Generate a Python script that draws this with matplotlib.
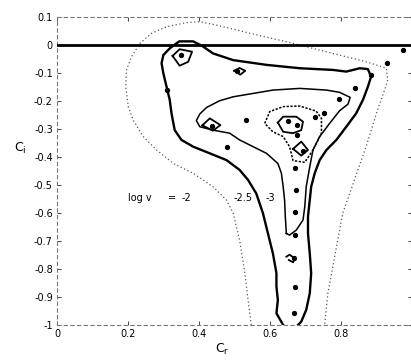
import matplotlib
matplotlib.use("Agg")
import matplotlib.pyplot as plt

# ---- data (data coordinates) ----
# outer dotted contour (log v = -2)
c2_x = [0.548, 0.539, 0.530, 0.515, 0.497, 0.478, 0.440, 0.384, 0.328, 0.281, 0.243, 0.215, 0.201,
        0.194, 0.196, 0.210, 0.234, 0.267, 0.309, 0.365, 0.403, 0.450, 0.544, 0.666, 0.778, 0.872,
        0.929, 0.933, 0.924, 0.901, 0.872, 0.839, 0.806, 0.792, 0.778, 0.764, 0.755]
c2_y = [-1.0, -0.911, -0.815, -0.696, -0.601, -0.554, -0.506, -0.458, -0.423, -0.375, -0.327, -0.268, -0.220,
        -0.149, -0.089, -0.042, 0.006, 0.042, 0.065, 0.080, 0.083, 0.071, 0.042, 0.006, -0.030, -0.060,
        -0.083, -0.125, -0.161, -0.244, -0.363, -0.482, -0.601, -0.696, -0.792, -0.887, -1.0]

# thick solid contour (log v = -2.5), zoom-pixel derived
c25_px = [(850, 975), (830, 940), (835, 900), (830, 860), (830, 820), (820, 760), (805, 700), (790, 640),
          (770, 580), (745, 540), (720, 510), (680, 480), (630, 460), (580, 440), (545, 420), (525, 390),
          (515, 340), (510, 300), (500, 260), (490, 220), (485, 190), (490, 165), (510, 145), (530, 130),
          (538, 124), (580, 124), (592, 130), (605, 137), (640, 160), (700, 180), (800, 195), (900, 205),
          (1000, 210), (1040, 215), (1060, 210), (1080, 205), (1105, 207), (1115, 230), (1105, 260),
          (1090, 300), (1070, 340), (1040, 380), (1010, 420), (980, 450), (960, 480), (945, 520),
          (935, 560), (930, 600), (925, 650), (925, 700), (930, 760), (935, 820), (930, 880), (920, 930),
          (905, 965), (895, 975)]
c25_x = [round((p[0] - 171) / 1065, 3) for p in c25_px]
c25_y = [round((135 - p[1]) / 840, 3) for p in c25_px]

# solid contour (log v = -3)
c3_px = [(860, 700), (857, 650), (855, 600), (850, 560), (845, 520), (835, 490), (800, 460), (760, 440),
         (720, 420), (690, 400), (640, 390), (600, 380), (590, 362), (600, 342), (620, 322), (660, 302),
         (700, 290), (760, 280), (820, 270), (900, 265), (980, 270), (1020, 277), (1052, 292), (1045, 312),
         (1020, 332), (990, 370), (960, 410), (940, 450), (930, 500), (920, 560), (915, 620), (910, 660),
         (890, 690), (870, 705), (860, 700)]
c3_x = [round((p[0] - 171) / 1065, 3) for p in c3_px]
c3_y = [round((135 - p[1]) / 840, 3) for p in c3_px]

# dotted inner contour
c35_px = [(795, 370), (810, 335), (850, 320), (900, 318), (950, 333), (965, 355), (965, 400), (940, 450),
          (915, 487), (880, 482), (870, 440), (850, 410), (820, 395), (795, 370)]
c35_x = [round((p[0] - 171) / 1065, 3) for p in c35_px]
c35_y = [round((135 - p[1]) / 840, 3) for p in c35_px]

# small closed loops
loops_px = [
    [(835, 368), (850, 350), (890, 350), (910, 365), (905, 390), (880, 400), (850, 395), (835, 368)],
    [(880, 447), (905, 425), (925, 450), (905, 467), (880, 447)],
    [(518, 168), (540, 148), (577, 155), (565, 185), (540, 197), (518, 168)],
    [(608, 376), (630, 355), (662, 375), (640, 392), (608, 376)],
    [(703, 212), (720, 204), (737, 212), (722, 224), (703, 212)],
    [(860, 770), (870, 764), (886, 775), (880, 787), (868, 780)],
]
loops_x = [[round((p[0] - 171) / 1065, 3) for p in lp] for lp in loops_px]
loops_y = [[round((135 - p[1]) / 840, 3) for p in lp] for lp in loops_px]

# data points
dots_x = [0.351, 0.508, 0.309, 0.436, 0.532, 0.479, 0.652, 0.678, 0.678, 0.694, 0.727, 0.752, 0.795,
          0.842, 0.885, 0.931, 0.976, 0.671, 0.675, 0.670, 0.670, 0.668, 0.670, 0.668]
dots_y = [-0.036, -0.093, -0.161, -0.289, -0.268, -0.363, -0.270, -0.286, -0.321, -0.377, -0.258, -0.244,
          -0.193, -0.155, -0.107, -0.063, -0.018, -0.440, -0.518, -0.595, -0.679, -0.762, -0.863, -0.958]

xticks = [0, 0.2, 0.4, 0.6, 0.8]
xticklabels = ["0", "0.2", "0.4", "0.6", "0.8"]
yticks = [0.1, 0, -0.1, -0.2, -0.3, -0.4, -0.5, -0.6, -0.7, -0.8, -0.9, -1]
yticklabels = ["0.1", "0", "-0.1", "-0.2", "-0.3", "-0.4", "-0.5", "-0.6", "-0.7", "-0.8", "-0.9", "-1"]

label_texts = ["log v", "=", "-2", "-2.5", "-3"]
label_x = [0.201, 0.312, 0.350, 0.498, 0.588]
label_y = -0.545

# ---- figure ----
fig = plt.figure(figsize=(4.11, 3.60), dpi=100)
ax = fig.add_axes([57 / 411, 1 - 325 / 360, 354.5 / 411, (325 - 17) / 360])
ax.set_xlim(0, 1.0)
ax.set_ylim(-1, 0.1)

ax.plot([0, 1.0], [0, 0], color="black", lw=2.0, zorder=3)
ax.plot(c2_x, c2_y, color="#555555", lw=0.9, ls=(0, (1, 2)))
ax.plot(c25_x, c25_y, color="black", lw=1.7)
ax.plot(c3_x, c3_y, color="black", lw=1.1)
ax.plot(c35_x, c35_y, color="black", lw=1.1, ls=(0, (1.5, 1)))
for lx, ly in zip(loops_x, loops_y):
    ax.plot(lx, ly, color="black", lw=1.3)
ax.plot(dots_x, dots_y, "o", color="black", ms=2.8, mec="black")

for t, x in zip(label_texts, label_x):
    ax.text(x, label_y, t, fontsize=7, ha="left", va="center")

ax.set_xticks(xticks)
ax.set_xticklabels(xticklabels, fontsize=7)
ax.set_yticks(yticks)
ax.set_yticklabels(yticklabels, fontsize=7)
ax.tick_params(direction="in", length=3, width=0.7, top=True, right=True, pad=3, color="#444444")
for s in ax.spines.values():
    s.set_color("#777777")
    s.set_linewidth(0.8)
    s.set_linestyle((0, (3, 3)))

fig.text(20 / 411, 1 - 148 / 360, r"C$_{\mathrm{i}}$", fontsize=9, ha="center", va="center")
fig.text(222 / 411, 1 - 349 / 360, r"C$_{\mathrm{r}}$", fontsize=9, ha="center", va="center")

fig.savefig("out.png", dpi=100)
